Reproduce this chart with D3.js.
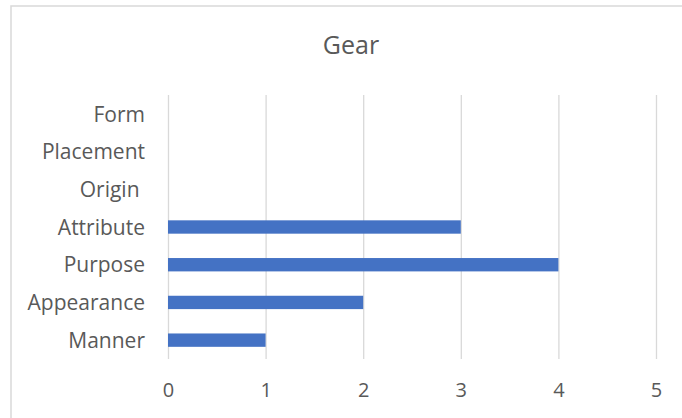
<!DOCTYPE html>
<html>
<head>
<meta charset="utf-8">
<script src="https://cdn.jsdelivr.net/npm/d3@7"></script>
<style>
  body { margin: 0; background: #fff; }
  text { font-family: "Open Sans", sans-serif; fill: #595959; }
</style>
</head>
<body>
<svg id="chart" width="682" height="418"></svg>
<script>
var categories = ["Form", "Placement", "Origin ", "Attribute", "Purpose", "Appearance", "Manner"],
    values = [0, 0, 0, 3, 4, 2, 1],
    ticks = [0, 1, 2, 3, 4, 5],
    title = "Gear";

var svg = d3.select("#chart"),
    width = +svg.attr("width"),
    height = +svg.attr("height");

// chart area frame (only top and left edges visible in the picture)
svg.append("rect")
  .attr("x", 11)
  .attr("y", 6)
  .attr("width", 700)
  .attr("height", 440)
  .attr("fill", "#fff")
  .attr("stroke", "#d9d9d9")
  .attr("stroke-width", 1.5);

var x = d3.scaleLinear().domain([0, 5]).range([168, 656]),
    y = d3.scaleBand().domain(categories).range([95, 359])
      .paddingInner(0.646).paddingOuter(0.323);

// gridlines
svg.append("g")
  .attr("transform", "translate(0,95)")
  .call(d3.axisBottom(x).tickValues(ticks).tickSize(264).tickFormat(""))
  .call(function (g) { g.select(".domain").remove(); })
  .selectAll("line")
  .attr("stroke", "#d9d9d9")
  .attr("stroke-width", 1.3);

// x tick labels
svg.append("g")
  .attr("transform", "translate(0,359)")
  .call(d3.axisBottom(x).tickValues(ticks).tickSize(0).tickPadding(24).tickFormat(d3.format("d")))
  .call(function (g) { g.select(".domain").remove(); })
  .selectAll("text")
  .attr("font-family", "Open Sans")
  .attr("font-size", 20)
  .attr("fill", "#595959");

// bars
svg.append("g").selectAll("rect")
  .data(categories)
  .join("rect")
  .attr("x", x(0))
  .attr("y", function (d) { return y(d); })
  .attr("width", function (d, i) { return x(values[i]) - x(0); })
  .attr("height", y.bandwidth())
  .attr("fill", "#4472c4");

// category labels
svg.append("g")
  .attr("transform", "translate(168,1)")
  .call(d3.axisLeft(y).tickSize(0).tickPadding(23))
  .call(function (g) { g.select(".domain").remove(); })
  .selectAll("text")
  .attr("font-family", "Open Sans")
  .attr("font-size", 21)
  .attr("fill", "#595959")
  .style("white-space", "pre");

svg.append("text")
  .attr("x", 351)
  .attr("y", 54)
  .attr("text-anchor", "middle")
  .attr("font-size", 25)
  .text(title);
</script>
</body>
</html>
